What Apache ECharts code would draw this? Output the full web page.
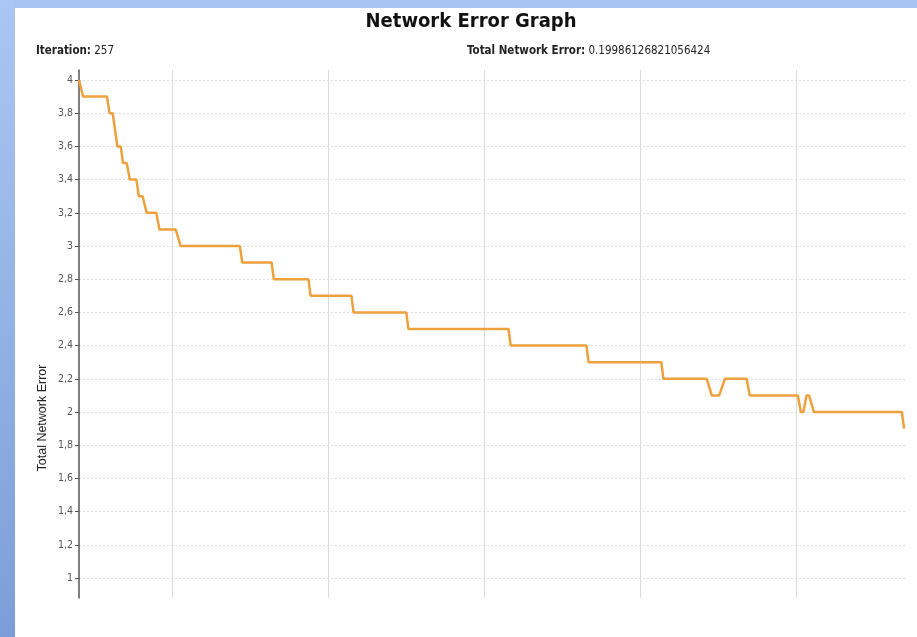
<!DOCTYPE html>
<html>
<head>
<meta charset="utf-8">
<script src="https://cdn.jsdelivr.net/npm/echarts@6/dist/echarts.min.js"></script>
<style>
html,body{margin:0;padding:0;background:#fff;}
#chart{width:917px;height:637px;}
</style>
</head>
<body>
<div id="chart"></div>
<script>
// Data
const iterations = [20, 21.3, 29, 29.8, 30.8, 32.3, 33.4, 34.1, 35.3, 36.3, 38.4, 39.2, 40.4, 41.7, 44.8, 45.8, 51, 52.6, 71.6, 72.4, 81.8, 82.5, 93.6, 94.3, 107.4, 108.1, 125, 125.7, 157.8, 158.5, 182.8, 183.5, 206.8, 207.5, 221.4, 223, 225.4, 227.2, 234.2, 235.2, 250.6, 251.6, 252.4, 253.4, 254.2, 255.8, 284, 284.7];
const errors = [4.0, 3.9, 3.9, 3.8, 3.8, 3.6, 3.6, 3.5, 3.5, 3.4, 3.4, 3.3, 3.3, 3.2, 3.2, 3.1, 3.1, 3.0, 3.0, 2.9, 2.9, 2.8, 2.8, 2.7, 2.7, 2.6, 2.6, 2.5, 2.5, 2.4, 2.4, 2.3, 2.3, 2.2, 2.2, 2.1, 2.1, 2.2, 2.2, 2.1, 2.1, 2.0, 2.0, 2.1, 2.1, 2.0, 2.0, 1.9];
const yTicks = [1, 1.2, 1.4, 1.6, 1.8, 2, 2.2, 2.4, 2.6, 2.8, 3, 3.2, 3.4, 3.6, 3.8, 4];
const xGridLines = [50, 100, 150, 200, 250];
const titleText = 'Network Error Graph';
const iterationValue = '257';
const totalErrorValue = '0.19986126821056424';
const yAxisTitle = 'Total Network Error';

const seriesData = iterations.map((x, i) => [x, errors[i]]);

const chart = echarts.init(document.getElementById('chart'), null, {renderer: 'canvas'});
chart.setOption({
  animation: false,
  backgroundColor: '#ffffff',
  title: {
    text: titleText,
    left: 466,
    textAlign: 'center',
    top: 7,
    textStyle: {fontFamily: 'DejaVu Sans Condensed', fontWeight: 'bold', fontSize: 20, color: '#111'}
  },
  graphic: [
    {type: 'rect', left: 0, top: 0, z: 100, shape: {width: 917, height: 8}, style: {fill: '#a7c3f0'}},
    {type: 'rect', left: 0, top: 0, z: 100, shape: {width: 15, height: 637},
      style: {fill: new echarts.graphic.LinearGradient(0, 0, 0, 1, [{offset: 0, color: '#aac6f2'}, {offset: 1, color: '#7c9ed8'}])}},
    {type: 'text', x: 36, y: 51, z: 100, style: {
      text: '{b|Iteration:} ' + iterationValue, textVerticalAlign: 'middle',
      fontFamily: 'DejaVu Sans Condensed', fontSize: 11.5, fill: '#222',
      rich: {b: {fontWeight: 'bold', fontFamily: 'DejaVu Sans Condensed', fontSize: 11.5, fill: '#222'}}
    }},
    {type: 'text', x: 467, y: 51, z: 100, style: {
      text: '{b|Total Network Error:} ' + totalErrorValue, textVerticalAlign: 'middle',
      fontFamily: 'DejaVu Sans Condensed', fontSize: 11.5, fill: '#222',
      rich: {b: {fontWeight: 'bold', fontFamily: 'DejaVu Sans Condensed', fontSize: 11.5, fill: '#222'}}
    }},
    {type: 'text', x: 43, y: 418, rotation: Math.PI / 2, z: 100, style: {
      text: yAxisTitle, textAlign: 'center', textVerticalAlign: 'middle',
      fontFamily: 'Liberation Sans', fontSize: 12.5, fill: '#222'
    }}
  ],
  grid: {left: 79, right: 12, top: 70, bottom: 39, containLabel: false},
  xAxis: {
    type: 'value', min: 20, max: 285,
    axisLine: {show: false},
    axisLabel: {show: false},
    axisTick: {show: false, customValues: xGridLines},
    splitLine: {show: true, lineStyle: {color: '#dadada', width: 1, type: 'solid'}}
  },
  yAxis: {
    type: 'value', min: 0.88, max: 4.06,
    axisLine: {show: true, lineStyle: {color: '#555', width: 1.5}},
    axisTick: {show: true, inside: false, length: 4, customValues: yTicks, lineStyle: {color: '#555'}},
    axisLabel: {
      customValues: yTicks, margin: 6, fontSize: 10.5, color: '#555', fontFamily: 'DejaVu Sans Condensed',
      formatter: v => String(Math.round(v * 10) / 10).replace('.', ',')
    },
    splitLine: {show: true, lineStyle: {color: '#dedede', width: 1, type: [2, 2]}}
  },
  series: [{
    type: 'line',
    data: seriesData,
    showSymbol: false,
    lineStyle: {color: '#eea03c', width: 2.5},
    z: 5
  }]
});
</script>
</body>
</html>
